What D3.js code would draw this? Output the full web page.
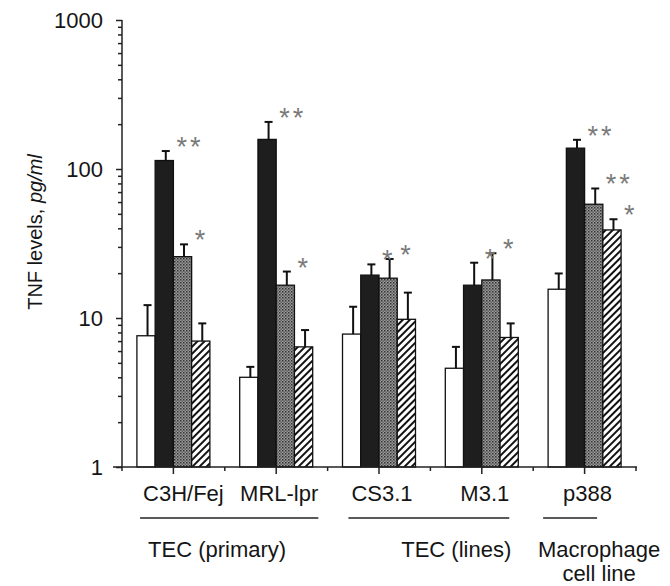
<!DOCTYPE html>
<html lang="en">
<head>
<meta charset="UTF-8">
<title>TNF levels</title>
<script src="https://d3js.org/d3.v7.min.js"></script>
<style>
  body { margin: 0; background: #fff; }
  svg { display: block; font-family: "Liberation Sans", Arial, sans-serif; }
  .lbl { font-size: 22px; fill: #151515; }
  .axis line, .axis path { stroke: #222; stroke-width: 1.5; }
  .star { font-size: 27px; fill: #7a7a7a; letter-spacing: 3px; }
</style>
</head>
<body>
<svg width="670" height="586"></svg>
<script>
// values (bar = mean, err = top of error bar)
const categories = ["C3H/Fej", "MRL-lpr", "CS3.1", "M3.1", "p388"];
const seriesNames = ["open", "solid", "stippled", "hatched"];

const openMean     = [7.6, 4.0, 7.8, 4.6, 15.6];
const solidMean    = [114, 158, 19.4, 16.6, 138];
const stippledMean = [25.8, 16.6, 18.5, 18.0, 58];
const hatchedMean  = [7.0, 6.4, 9.8, 7.4, 39];

const openErr     = [12.2, 4.7, 11.9, 6.4, 19.9];
const solidErr    = [132, 207, 22.9, 23.5, 157];
const stippledErr = [31.2, 20.5, 24.9, 27.2, 74];
const hatchedErr  = [9.2, 8.3, 14.8, 9.2, 46];

const openSig     = ["", "", "", "", ""];
const solidSig    = ["**", "**", "*", "*", "**"];
const stippledSig = ["*", "*", "*", "*", "**"];
const hatchedSig  = ["", "", "", "", "*"];

const yTickValues = [1, 10, 100, 1000];

const groups = [
  { lines: ["TEC (primary)"], members: ["C3H/Fej", "MRL-lpr"] },
  { lines: ["TEC (lines)"], members: ["CS3.1", "M3.1"] },
  { lines: ["Macrophage", "cell line"], members: ["p388"] }
];

const means = [openMean, solidMean, stippledMean, hatchedMean];
const errs = [openErr, solidErr, stippledErr, hatchedErr];
const sigs = [openSig, solidSig, stippledSig, hatchedSig];

const rows = [];
categories.forEach((c, i) => {
  seriesNames.forEach((s, j) => {
    rows.push({ cat: c, series: s, value: means[j][i], err: errs[j][i], sig: sigs[j][i] });
  });
});

const svg = d3.select("svg");
const plotLeft = 122, plotRight = 636, plotTop = 20, plotBottom = 467;

const x = d3.scaleBand().domain(categories).range([plotLeft, plotRight])
  .paddingInner(0.29).paddingOuter(0.145);
const xs = d3.scaleBand().domain(seriesNames).range([0, x.bandwidth()]);
const y = d3.scaleLog().domain([1, 1000]).range([plotBottom, plotTop]);

// fills
const defs = svg.append("defs");
const stip = defs.append("pattern").attr("id", "stip")
  .attr("patternUnits", "userSpaceOnUse").attr("width", 3).attr("height", 3);
stip.append("rect").attr("width", 3).attr("height", 3).attr("fill", "#9a9a9a");
stip.append("rect").attr("x", 0).attr("y", 0).attr("width", 1.5).attr("height", 1.5).attr("fill", "#333");
stip.append("rect").attr("x", 1.5).attr("y", 1.5).attr("width", 1.3).attr("height", 1.3).attr("fill", "#4a4a4a");

const hatch = defs.append("pattern").attr("id", "hatch")
  .attr("patternUnits", "userSpaceOnUse").attr("width", 5).attr("height", 5)
  .attr("patternTransform", "rotate(45)");
hatch.append("rect").attr("width", 5).attr("height", 5).attr("fill", "#fff");
hatch.append("line").attr("x1", 1).attr("x2", 1).attr("y1", 0).attr("y2", 5)
  .attr("stroke", "#111").attr("stroke-width", 2);

const fills = { open: "#fff", solid: "#1e1e1e", stippled: "url(#stip)", hatched: "url(#hatch)" };

// bars
const bx = d => x(d.cat) + xs(d.series);
svg.append("g").selectAll("rect").data(rows).join("rect")
  .attr("x", bx)
  .attr("y", d => y(d.value))
  .attr("width", xs.bandwidth())
  .attr("height", d => y(1) - y(d.value))
  .attr("fill", d => fills[d.series])
  .attr("stroke", "#111")
  .attr("stroke-width", 1.3);

// error bars
const eb = svg.append("g").attr("stroke", "#111").attr("stroke-width", 2);
const ex = d => bx(d) + xs.bandwidth() / 2 + 1.5;
eb.selectAll(".stem").data(rows).join("line").attr("class", "stem")
  .attr("x1", ex).attr("x2", ex)
  .attr("y1", d => y(d.value)).attr("y2", d => y(d.err));
eb.selectAll(".cap").data(rows).join("line").attr("class", "cap")
  .attr("x1", d => ex(d) - 4).attr("x2", d => ex(d) + 4)
  .attr("y1", d => y(d.err)).attr("y2", d => y(d.err));

// significance marks
svg.append("g").selectAll("text").data(rows.filter(d => d.sig)).join("text")
  .attr("class", "star")
  .attr("x", d => bx(d) + xs.bandwidth() + 3)
  .attr("y", d => y(d.err) + 5)
  .text(d => d.sig);

// y axis
const majors = yTickValues;
const minors = y.ticks().filter(v => !majors.includes(v));
const yAxisG = svg.append("g").attr("class", "axis").attr("transform", `translate(${plotLeft},0)`);
yAxisG.append("g").call(d3.axisLeft(y).tickValues(minors).tickSize(4).tickFormat(""))
  .call(g => g.select(".domain").remove());
yAxisG.append("g").call(d3.axisLeft(y).tickValues(majors).tickSize(6).tickPadding(13)
    .tickFormat(d3.format("d")))
  .call(g => g.select(".domain").remove())
  .call(g => g.selectAll("text").attr("class", "lbl").attr("font-family", null).attr("font-size", null));
yAxisG.append("line").attr("x1", 0).attr("x2", 0).attr("y1", plotTop).attr("y2", plotBottom);

// x axis
const xAxisG = svg.append("g").attr("class", "axis").attr("transform", `translate(0,${plotBottom})`);
xAxisG.append("g").call(d3.axisBottom(x).tickSize(7).tickFormat(""))
  .call(g => g.select(".domain").remove());
const edges = d3.range(categories.length + 1).map(i => plotLeft + i * x.step());
xAxisG.selectAll(".minor").data(edges).join("line").attr("class", "minor")
  .attr("x1", d => d).attr("x2", d => d).attr("y1", 0).attr("y2", 4);
xAxisG.append("line").attr("x1", plotLeft - 9).attr("x2", plotRight + 1).attr("y1", 0).attr("y2", 0);

// category labels
const catLabels = svg.append("g").selectAll("text").data(categories).join("text")
  .attr("class", "lbl")
  .attr("text-anchor", "middle")
  .attr("x", d => x(d) + x.bandwidth() / 2 + (d === "C3H/Fej" ? 10 : 3))
  .attr("y", 501)
  .text(d => d);

// group underlines and names
const anchors = ["start", "end", "middle"];
groups.forEach((g, gi) => {
  const boxes = catLabels.filter(d => g.members.includes(d)).nodes().map(n => n.getBBox());
  let x1 = d3.min(boxes, b => b.x) - 3;
  let x2 = d3.max(boxes, b => b.x + b.width);
  if (gi === 2) { x1 -= 17; x2 -= 15; }
  svg.append("line").attr("x1", x1).attr("x2", x2).attr("y1", 518).attr("y2", 518)
    .attr("stroke", "#222").attr("stroke-width", 1.3);
  const tx = anchors[gi] === "start" ? x1 + 8 : anchors[gi] === "end" ? x2 + 2 : x2 + 2;
  g.lines.forEach((t, li) => {
    svg.append("text").attr("class", "lbl")
      .attr("text-anchor", anchors[gi])
      .attr("x", tx).attr("y", 557 + li * 24)
      .text(t);
  });
});

// y title
const yt = svg.append("text").attr("class", "lbl").style("font-size", "20px")
  .attr("text-anchor", "middle")
  .attr("transform", `translate(42,232) rotate(-90)`);
yt.append("tspan").text("TNF levels, ");
yt.append("tspan").attr("font-style", "italic").text("pg/ml");
</script>
</body>
</html>
